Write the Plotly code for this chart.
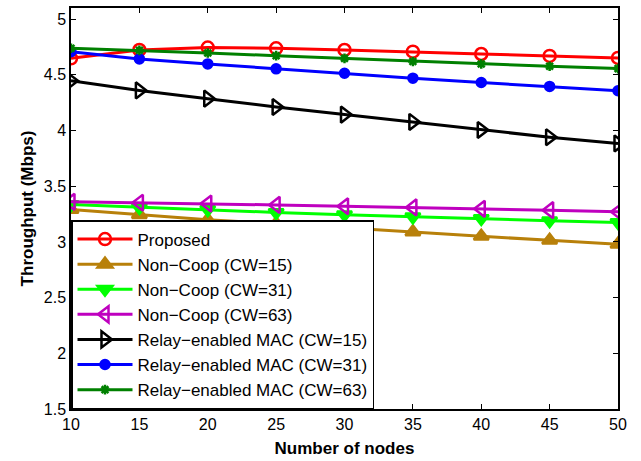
import plotly.graph_objects as go

nodes = [10, 15, 20, 25, 30, 35, 40, 45, 50]

proposed = [4.648, 4.723, 4.745, 4.738, 4.723, 4.708, 4.687, 4.670, 4.652]
noncoop_15 = [3.29, 3.245, 3.20, 3.165, 3.125, 3.09, 3.05, 3.015, 2.98]
noncoop_31 = [3.335, 3.31, 3.29, 3.265, 3.245, 3.225, 3.21, 3.19, 3.175]
noncoop_63 = [3.36, 3.352, 3.344, 3.332, 3.32, 3.31, 3.297, 3.285, 3.27]
relay_15 = [4.446, 4.36, 4.286, 4.211, 4.143, 4.077, 4.005, 3.94, 3.884]
relay_31 = [4.708, 4.643, 4.598, 4.554, 4.514, 4.47, 4.431, 4.396, 4.357]
relay_63 = [4.738, 4.72, 4.696, 4.672, 4.648, 4.62, 4.598, 4.577, 4.556]

names = ["Proposed", "Non−Coop (CW=15)", "Non−Coop (CW=31)", "Non−Coop (CW=63)",
         "Relay−enabled MAC (CW=15)", "Relay−enabled MAC (CW=31)", "Relay−enabled MAC (CW=63)"]
series = [proposed, noncoop_15, noncoop_31, noncoop_63, relay_15, relay_31, relay_63]
colors = ["#FF0000", "#B8800A", "#00FF00", "#BF00BF", "#000000", "#0000FF", "#008000"]
symbols = ["circle-open", "triangle-up", "triangle-down", "triangle-left-open",
           "triangle-right-open", "circle", "asterisk-open"]
sizes = [12, 13, 13, 14, 14, 9, 8]

fig = go.Figure()
for name, ys, c, s, sz in zip(names, series, colors, symbols, sizes):
    fig.add_trace(go.Scatter(
        x=nodes, y=ys, name=name, mode="lines+markers",
        line=dict(color=c, width=3),
        marker=dict(symbol=s, size=sz, color=c, line=dict(color=c, width=2.5)),
    ))

axis_common = dict(
    showline=True, linecolor="black", linewidth=1.5, mirror="ticks",
    ticks="inside", ticklen=5, tickcolor="black", showgrid=False, zeroline=False,
    tickfont=dict(family="Liberation Sans, Arial", size=16, color="black"),
)
fig.update_xaxes(range=[10, 50], tickvals=nodes, **axis_common,
                 title=dict(text="<b>Number of nodes</b>", standoff=10,
                            font=dict(family="Liberation Sans, Arial", size=17, color="black")))
fig.update_yaxes(range=[1.5, 5.1], tickvals=[1.5, 2, 2.5, 3, 3.5, 4, 4.5, 5], **axis_common,
                 title=dict(text="<b>Throughput (Mbps)</b>", standoff=6,
                            font=dict(family="Liberation Sans, Arial", size=17, color="black")))

fig.update_layout(
    width=641, height=461,
    margin=dict(l=71, r=23, t=6, b=50),
    plot_bgcolor="white", paper_bgcolor="white",
    legend=dict(x=0, y=0, xanchor="left", yanchor="bottom",
                bgcolor="white", bordercolor="black", borderwidth=1.5,
                font=dict(family="Liberation Sans, Arial", size=17, color="black"),
                tracegroupgap=0, itemwidth=55),
)

fig.write_html("out.html")
